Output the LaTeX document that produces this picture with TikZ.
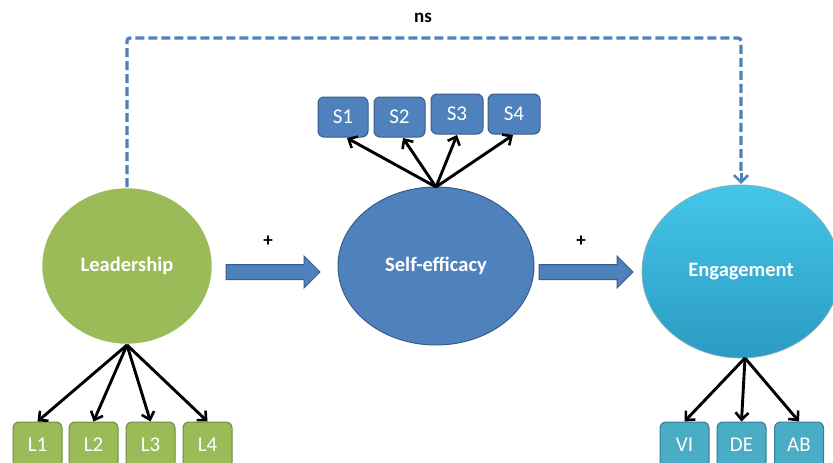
\documentclass[tikz,border=0pt]{standalone}
\usepackage{fontspec}
\setmainfont{Carlito}
\usetikzlibrary{arrows.meta,shapes.geometric}
\definecolor{lgreen}{HTML}{9BBB59}
\definecolor{dgreen}{HTML}{71893F}
\definecolor{lblue}{HTML}{4F81BD}
\definecolor{dblue}{HTML}{385D8A}
\definecolor{lcyan}{HTML}{4BACC6}
\definecolor{dcyan}{HTML}{357D91}
\definecolor{ecyantop}{HTML}{44C6E8}
\definecolor{ecyanbot}{HTML}{2B9BC2}
\tikzset{
  latent/.style={ellipse, inner sep=0pt, text=white, font=\fontsize{20.5}{24}\selectfont\bfseries},
  indic/.style={rounded corners=6pt, minimum width=49pt, minimum height=46pt, inner sep=0pt, line width=1pt, text=white, font=\fontsize{21}{24}\selectfont},
  indicS/.style={indic, minimum height=40pt},
  load/.style={draw=black, line width=2.9pt, -{Straight Barb[length=7pt,width=13pt,line width=2.6pt]}},
  blockarrow/.style={fill=lblue, draw=dblue, line width=1pt},
  nsline/.style={draw=lblue, line width=3.3pt, dash pattern=on 9pt off 4pt, rounded corners=3pt},
  sign/.style={font=\fontsize{19}{20}\selectfont\bfseries, text=black}
}
\begin{document}
\begin{tikzpicture}[x=1pt, y=-1pt]
\useasboundingbox (0,0) rectangle (833,463);
\fill[white] (0,0) rectangle (833,463);

% latent variables
\node[latent, fill=lgreen, draw=white, line width=2.5pt, minimum width=172pt, minimum height=158pt] (lead) at (127,266) {Leadership};
\node[latent, fill=lblue, draw=dblue, line width=1pt, minimum width=196pt, minimum height=158pt] (self) at (436,266) {Self-efficacy};
\node[latent, top color=ecyantop, bottom color=ecyanbot, draw=dcyan!60, line width=0.8pt, minimum width=198pt, minimum height=173pt] (eng) at (741,271.5) {Engagement};

% indicators
\node[indic, fill=lgreen, draw=dgreen] (l1) at (37.5,445) {L1};
\node[indic, fill=lgreen, draw=dgreen] (l2) at (93.5,445) {L2};
\node[indic, fill=lgreen, draw=dgreen] (l3) at (150.5,445) {L3};
\node[indic, fill=lgreen, draw=dgreen] (l4) at (207.5,445) {L4};

\node[indicS, minimum width=50pt, fill=lblue, draw=dblue] (s1) at (343,117) {S1};
\node[indicS, minimum width=51pt, fill=lblue, draw=dblue] (s2) at (399.5,117) {S2};
\node[indicS, minimum width=52pt, fill=lblue, draw=dblue] (s3) at (457,114) {S3};
\node[indicS, minimum width=52pt, fill=lblue, draw=dblue] (s4) at (514,114) {S4};

\node[indic, fill=lcyan, draw=dcyan] (vi) at (684.5,445) {VI};
\node[indic, fill=lcyan, draw=dcyan] (de) at (741.5,445) {DE};
\node[indic, fill=lcyan, draw=dcyan] (ab) at (799,445) {AB};

% loadings
\coordinate (leadbase) at (127,345);
\foreach \t in {l1,l2,l3,l4} \draw[load] (leadbase) -- (\t.north);
\coordinate (selfbase) at (436,187);
\draw[load] (selfbase) -- (347,138);
\draw[load] (selfbase) -- (403,138);
\draw[load] (selfbase) -- (457,135);
\draw[load] (selfbase) -- (513,135);
\coordinate (engbase) at (745,358);
\draw[load] (engbase) -- (vi.north);
\draw[load] (engbase) -- (de.north);
\draw[load] (engbase) -- (ab.north);

% structural block arrows
\draw[blockarrow] (226,264.5) -- (304,264.5) -- (304,256) -- (320,272) -- (304,288) -- (304,279.5) -- (226,279.5) -- cycle;
\draw[blockarrow] (539,264.5) -- (617,264.5) -- (617,256) -- (633,272) -- (617,288) -- (617,279.5) -- (539,279.5) -- cycle;
\node[sign] (p1) at (268,241) {+};
\node[sign] (p2) at (581,241) {+};

% ns path
\coordinate (nsstart) at (127,187);
\coordinate (nsend) at (741,184);
\draw[nsline] (nsstart) -- (127,38) -- (741,38) -- (741,174);
\draw[draw=lblue, line width=3pt, -{Straight Barb[length=7pt,width=14pt,line width=2.6pt]}] (741,173) -- (nsend);
\node[font=\fontsize{19}{22}\selectfont\bfseries] (ns) at (423,18) {ns};
\end{tikzpicture}
\end{document}
